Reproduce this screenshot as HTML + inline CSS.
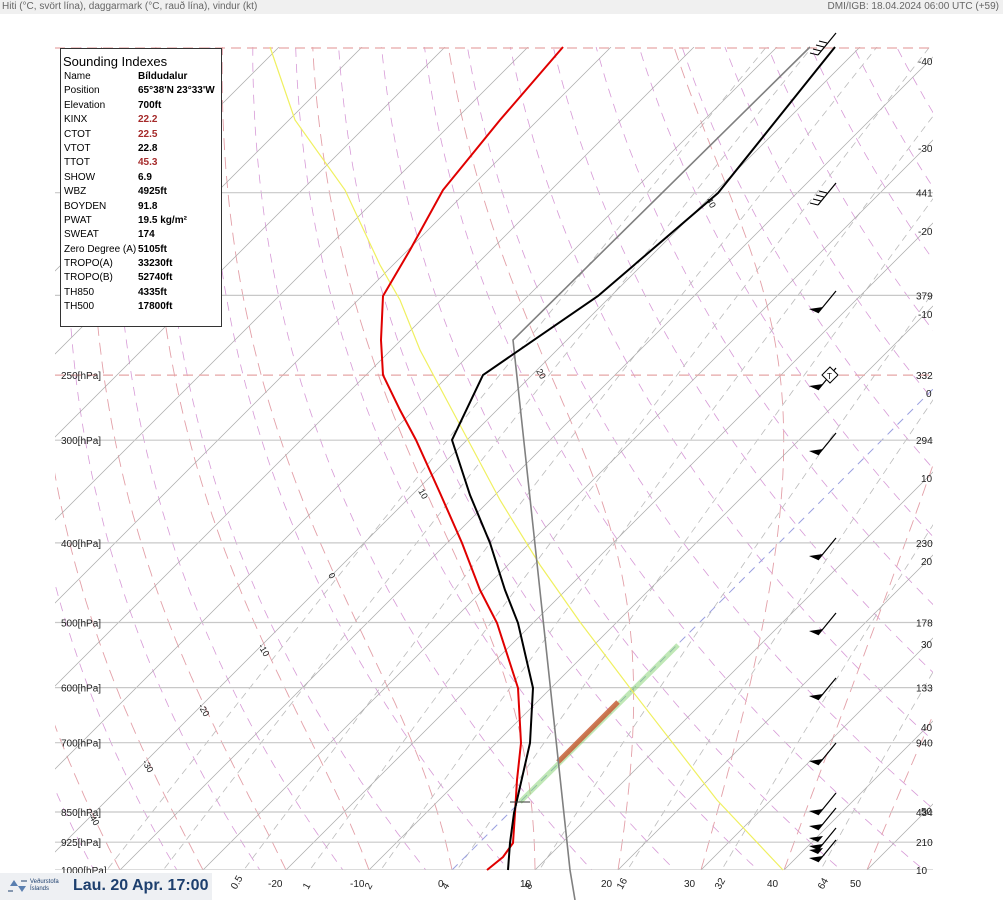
<!DOCTYPE html>
<html><head><meta charset="utf-8">
<style>
html,body{margin:0;padding:0;background:#fff;}
body{width:1003px;height:900px;position:relative;overflow:hidden;font-family:"Liberation Sans",sans-serif;}
#hdr{position:absolute;left:0;top:0;width:1003px;height:14px;background:#f0f0f0;font-size:10px;color:#666;line-height:13px;}
#hdr .l{position:absolute;left:2px;}
#hdr .r{position:absolute;right:4px;}
#box{position:absolute;left:60px;top:48px;width:160px;height:277px;border:1px solid #333;background:#fff;font-size:10px;line-height:14.4px;color:#000;}
#box .t{font-size:13px;margin:5px 0 1px 2px;line-height:15px;}
#box .row{position:relative;height:14.4px;padding-left:3px;}
#box .row span{position:absolute;left:77px;font-weight:bold;}
#box .red{color:#a52a2a;}
#logo{position:absolute;left:0;top:873px;width:212px;height:27px;background:#eef0f3;}
#logo .d{position:absolute;left:73px;top:4px;font-size:16px;font-weight:bold;color:#1d3f6e;white-space:nowrap;}
#logo .s{position:absolute;left:30px;top:6px;font-size:6px;line-height:7px;color:#1d3f6e;}
</style></head>
<body>
<div id="hdr"><span class="l">Hiti (°C, svört lína), daggarmark (°C, rauð lína), vindur (kt)</span><span class="r">DMI/IGB: 18.04.2024 06:00 UTC (+59)</span></div>
<svg id="sv" width="1003" height="900" style="position:absolute;left:0;top:0" xmlns="http://www.w3.org/2000/svg">
<defs><clipPath id="cp"><rect x="55" y="47" width="878" height="823"/></clipPath>
<clipPath id="cr"><rect x="0" y="0" width="933" height="900"/></clipPath></defs>
<g id="grid" clip-path="url(#cp)"></g>
<g id="lab" clip-path="url(#cr)" font-size="10" fill="#222"></g>
<g id="prof"></g>
</svg>
<div id="box">
<div class="t">Sounding Indexes</div>
<div class="row">Name<span>Bíldudalur</span></div>
<div class="row">Position<span>65°38'N 23°33'W</span></div>
<div class="row">Elevation<span>700ft</span></div>
<div class="row">KINX<span class="red">22.2</span></div>
<div class="row">CTOT<span class="red">22.5</span></div>
<div class="row">VTOT<span>22.8</span></div>
<div class="row">TTOT<span class="red">45.3</span></div>
<div class="row">SHOW<span>6.9</span></div>
<div class="row">WBZ<span>4925ft</span></div>
<div class="row">BOYDEN<span>91.8</span></div>
<div class="row">PWAT<span>19.5 kg/m²</span></div>
<div class="row">SWEAT<span>174</span></div>
<div class="row">Zero Degree (A)<span>5105ft</span></div>
<div class="row">TROPO(A)<span>33230ft</span></div>
<div class="row">TROPO(B)<span>52740ft</span></div>
<div class="row">TH850<span>4335ft</span></div>
<div class="row">TH500<span>17800ft</span></div>
</div>
<div id="logo"><svg width="28" height="27" style="position:absolute;left:4px;top:0"><path d="M6 13 L10 7 L14 13 Z M14 13 L18 19 L22 13Z" fill="#5a7fb0"/><path d="M4 18 L9 18 M17 8 L23 8" stroke="#1d3f6e"/></svg><div class="s">Veðurstofa<br>Íslands</div><div class="d">Lau. 20 Apr. 17:00</div></div>
<script>
var NS="http://www.w3.org/2000/svg";
function Y(p){return 870-357*Math.log(1000/p);}
function X(T,p){return 452+8.3*T+357*Math.log(1000/p);}
function el(par,tag,at,txt){var e=document.createElementNS(NS,tag);for(var k in at)e.setAttribute(k,at[k]);if(txt!==undefined)e.textContent=txt;document.getElementById(par).appendChild(e);return e;}
function pl(par,pts,st){el(par,"polyline",Object.assign({points:pts.map(function(a){return a[0].toFixed(1)+","+a[1].toFixed(1)}).join(" "),fill:"none"},st));}
var ps=[];for(var p=1050;p>=95;p-=5)ps.push(p);
for(var th=230;th<=520;th+=10){var a=[];ps.forEach(function(p){var T=th*Math.pow(p/1000,0.286)-273.15;a.push([X(T,p),Y(p)]);});pl("grid",a,{stroke:"#d79ad7","stroke-width":0.8,"stroke-dasharray":"9,7"});}
[0.1,0.2,0.5,1,2,4,8,16,32,64].forEach(function(w){var a=[];ps.forEach(function(p){var e=w/1000*p/(0.622+w/1000);var l=Math.log(e/6.112);var T=243.5*l/(17.67-l);a.push([X(T,p),Y(p)]);});pl("grid",a,{stroke:"#bbb","stroke-width":0.8,"stroke-dasharray":"7,5"});});
for(var T0=-40;T0<=50;T0+=10){var T=T0+273.15,p=1000;var up=[[X(T0,1000),Y(1000)]];
 while(p>95){var Tc=T-273.15,es=6.112*Math.exp(17.67*Tc/(Tc+243.5)),rs=0.622*es/(p-es);var d=(287*T+2.5e6*rs)/(1004+2.5e6*2.5e6*rs*0.622/(287*T*T));var dp=-5;T+=d*Math.log((p+dp)/p);p+=dp;up.push([X(T-273.15,p),Y(p)]);}
 pl("grid",up,{stroke:"#e3a0a8","stroke-width":0.9,"stroke-dasharray":"12,7"});}
for(var t=-120;t<=60;t+=10){pl("grid",[[X(t,1000),870],[X(t,1000)+823,47]],{stroke:t==0?"#9aa0e0":"#aaa","stroke-width":t==0?1:0.7,"stroke-dasharray":t==0?"8,6":"none"});}
[1000,925,850,700,600,500,400,300,200,150].forEach(function(p){pl("grid",[[55,Y(p)],[933,Y(p)]],{stroke:"#c8c8c8","stroke-width":1.2});});
[250,100].forEach(function(p){pl("grid",[[55,Y(p)],[933,Y(p)]],{stroke:"#e6a6a6","stroke-width":1.2,"stroke-dasharray":"10,6"});});
[[250,"250[hPa]"],[300,"300[hPa]"],[400,"400[hPa]"],[500,"500[hPa]"],[600,"600[hPa]"],[700,"700[hPa]"],[850,"850[hPa]"],[925,"925[hPa]"],[1000,"1000[hPa]"]].forEach(function(q){el("lab","text",{x:61,y:Y(q[0])+4},q[1]);});
[[150,"4419"],[200,"3796"],[250,"3324"],[300,"2946"],[400,"2305"],[500,"1785"],[600,"1332"],[700,"940"],[850,"434"],[925,"210"],[1000,"10"]].forEach(function(q){el("lab","text",{x:916,y:Y(q[0])+4},q[1]);});
[[-40,65],[-30,152],[-20,235],[-10,318],[0,397],[10,482],[20,565],[30,648],[40,731],[50,815]].forEach(function(q){el("lab","text",{x:q[0]<0?918:(q[0]==0?926:921),y:q[1]},q[0]);});
[[-20,268],[-10,350],[0,438],[10,520],[20,601],[30,684],[40,767],[50,850]].forEach(function(q){el("lab","text",{x:q[1],y:887},q[0]);});
[["0.5",236],["1",308],["2",370],["4",447],["8",530],["16",622],["32",720],["64",823]].forEach(function(q){el("lab","text",{x:q[1],y:890,transform:"rotate(-60 "+q[1]+" 890)"},q[0]);});
[["10",418,491],["0",328,575],["-10",258,646],["-20",198,706],["-30",142,762],["-40",88,815],["20",536,371],["40",706,200]].forEach(function(q){el("lab","text",{x:q[1],y:q[2],transform:"rotate(60 "+q[1]+" "+q[2]+")","font-size":9},q[0]);});
pl("prof",[[520,802],[678,645]],{stroke:"rgba(130,210,110,0.5)","stroke-width":5});
pl("prof",[[558,762],[618,702]],{stroke:"#c8603a","stroke-width":5,"stroke-opacity":0.85});
pl("prof",[[270,47],[295,120],[345,190],[380,265],[400,300],[420,350],[460,425],[500,500],[540,565],[580,622],[630,688],[717,800],[783,870]],{stroke:"#f0f060","stroke-width":1.2});
pl("prof",[[575,900],[570,870],[513,340],[810,47]],{stroke:"#808080","stroke-width":1.6});
pl("prof",[[487,870],[503,857],[513,843],[515,813],[517,780],[521,743],[518,688],[497,623],[480,590],[462,543],[440,493],[416,440],[400,410],[383,375],[381,340],[383,296],[410,250],[443,190],[500,120],[563,47]],{stroke:"#e00000","stroke-width":2});
pl("prof",[[508,870],[510,843],[514,813],[517,800],[530,743],[533,688],[518,623],[505,590],[490,543],[470,495],[452,440],[483,375],[598,296],[718,193],[835,47]],{stroke:"#000","stroke-width":2});
pl("prof",[[510,802],[530,802]],{stroke:"#333","stroke-width":1});
[[55,3],[205,3],[313,1],[390,1],[455,1],[560,1],[635,1],[700,1],[765,1],[815,1],[830,1],[850,2],[862,2]].forEach(function(b){var x=818,y=b[0];pl("prof",[[x,y],[x+18,y-22]],{stroke:"#000","stroke-width":1.2});
 if(b[1]==3){for(var i=0;i<4;i++)pl("prof",[[x+3*i,y-4*i],[x+3*i-8,y-4*i-2]],{stroke:"#000","stroke-width":1});}
 else{el("prof","polygon",{points:(x)+","+y+" "+(x+5)+","+(y-6)+" "+(x-9)+","+(y-4),fill:"#000"});if(b[1]==2)el("prof","polygon",{points:(x)+","+(y-8)+" "+(x+5)+","+(y-14)+" "+(x-9)+","+(y-12),fill:"#000"});}});
el("prof","polygon",{points:"830,367 838,375 830,383 822,375",fill:"#fff",stroke:"#000","stroke-width":1});
el("prof","text",{x:827,y:379,"font-size":8},"T");
</script>
</body></html>
